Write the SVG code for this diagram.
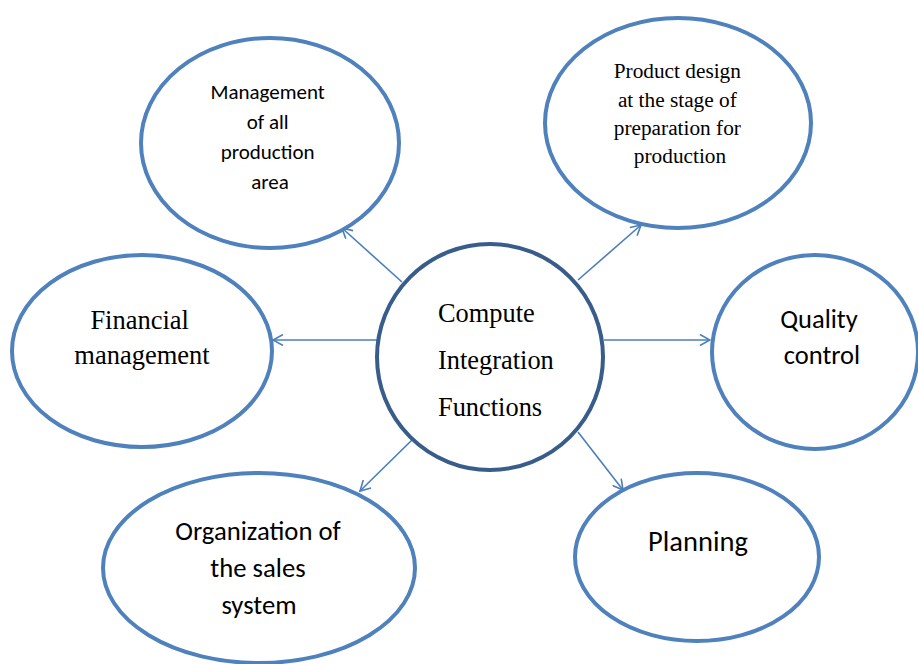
<svg xmlns="http://www.w3.org/2000/svg" width="918" height="664" viewBox="0 0 918 664">
  <style>
    .node { fill: #ffffff; stroke: #4f81bd; stroke-width: 4; }
    .hub { fill: #ffffff; stroke: #385d8a; stroke-width: 4; }
    .link { stroke: #4a7ebb; stroke-width: 1.6; fill: none; marker-end: url(#open); }
    .sans { font-family: 'Carlito', 'Lato', sans-serif; fill: #000000; text-anchor: middle; }
    .serif { font-family: 'Liberation Serif', serif; fill: #000000; text-anchor: middle; }
    .hubtext { font-family: 'Liberation Serif', serif; fill: #000000; }
  </style>
  <defs>
    <marker id="open" viewBox="0 0 12 12" refX="11" refY="6" markerWidth="12" markerHeight="12" markerUnits="userSpaceOnUse" orient="auto">
      <path d="M1,0.5 L11,6 L1,11.5" fill="none" stroke="#4a7ebb" stroke-width="1.6"/>
    </marker>
  </defs>

  <g id="connectors">
    <line class="link" x1="402" y1="282" x2="342" y2="228"/>
    <line class="link" x1="578" y1="280" x2="641" y2="225"/>
    <line class="link" x1="378" y1="340" x2="273" y2="340"/>
    <line class="link" x1="604" y1="340" x2="710" y2="340"/>
    <line class="link" x1="413" y1="439" x2="360" y2="491"/>
    <line class="link" x1="578" y1="432" x2="623" y2="490"/>
  </g>

  <g id="management">
    <ellipse class="node" cx="270" cy="143" rx="129" ry="105"/>
    <text class="sans" font-size="21">
      <tspan x="270" y="99">Management</tspan>
      <tspan x="270" y="129">of all</tspan>
      <tspan x="270" y="159">production</tspan>
      <tspan x="270" y="189">area</tspan>
    </text>
  </g>

  <g id="product-design">
    <ellipse class="node" cx="678" cy="123" rx="133" ry="105"/>
    <text class="serif" font-size="21.3">
      <tspan x="680" y="78">Product design</tspan>
      <tspan x="680" y="107">at the stage of</tspan>
      <tspan x="680" y="135">preparation for</tspan>
      <tspan x="680" y="163">production</tspan>
    </text>
  </g>

  <g id="financial">
    <ellipse class="node" cx="142" cy="351" rx="130" ry="96"/>
    <text class="serif" font-size="26.5">
      <tspan x="143" y="329">Financial</tspan>
      <tspan x="142" y="364">management</tspan>
    </text>
  </g>

  <g id="quality">
    <ellipse class="node" cx="815" cy="352" rx="103" ry="97"/>
    <text class="sans" font-size="26.5">
      <tspan x="822" y="328">Quality</tspan>
      <tspan x="822" y="364">control</tspan>
    </text>
  </g>

  <g id="sales">
    <ellipse class="node" cx="259" cy="568" rx="156" ry="95"/>
    <text class="sans" font-size="26.7">
      <tspan x="261" y="540">Organization of</tspan>
      <tspan x="261" y="577">the sales</tspan>
      <tspan x="259" y="614">system</tspan>
    </text>
  </g>

  <g id="planning">
    <ellipse class="node" cx="697" cy="557" rx="122" ry="84"/>
    <text class="sans" font-size="28.5">
      <tspan x="698" y="551">Planning</tspan>
    </text>
  </g>

  <g id="hub">
    <circle class="hub" cx="490" cy="357" r="113"/>
    <text class="hubtext" font-size="26.4">
      <tspan x="438" y="322">Compute</tspan>
      <tspan x="438" y="369">Integration</tspan>
      <tspan x="438" y="416">Functions</tspan>
    </text>
  </g>
</svg>
